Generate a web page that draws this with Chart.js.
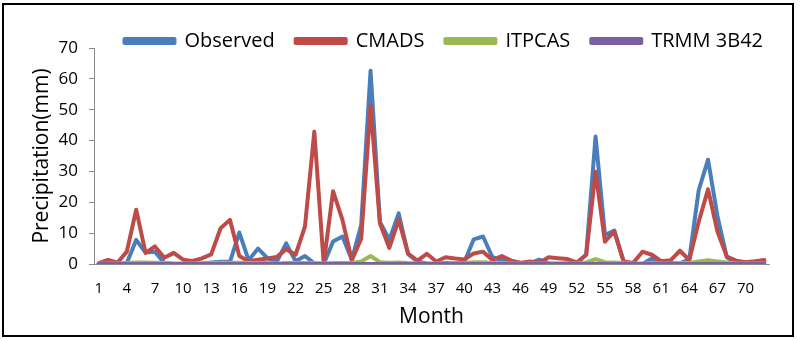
<!DOCTYPE html>
<html>
<head>
<meta charset="utf-8">
<script src="https://cdn.jsdelivr.net/npm/chart.js@4"></script>
<style>
  html, body { margin: 0; padding: 0; background: #fff; }
  #wrap { position: relative; width: 800px; height: 341px; }
  #frame {
    position: absolute; left: 2px; top: 3px; width: 792px; height: 334px;
    border: 2px solid #000; box-sizing: border-box; pointer-events: none;
  }
  canvas { position: absolute; left: 0; top: 0; }
</style>
</head>
<body>
<div id="wrap">
  <canvas id="rain-chart" width="800" height="341"></canvas>
  <div id="frame"></div>
</div>
<script>
const months = [1, 2, 3, 4, 5, 6, 7, 8, 9, 10, 11, 12, 13, 14, 15, 16, 17, 18,
    19, 20, 21, 22, 23, 24, 25, 26, 27, 28, 29, 30, 31, 32, 33, 34, 35, 36,
    37, 38, 39, 40, 41, 42, 43, 44, 45, 46, 47, 48, 49, 50, 51, 52, 53, 54,
    55, 56, 57, 58, 59, 60, 61, 62, 63, 64, 65, 66, 67, 68, 69, 70, 71, 72];
const shownMonths = [1, 4, 7, 10, 13, 16, 19, 22, 25, 28, 31, 34, 37, 40, 43, 46,
    49, 52, 55, 58, 61, 64, 67, 70];
const yTicks = [0, 10, 20, 30, 40, 50, 60, 70];

const observed = [0, 0, 0, 0.3, 7.8, 3.7, 4.0, 0.3, 0, 0, 0, 0.2,
    0.5, 0.7, 0.7, 10.2, 1.2, 5.0, 1.9, 0.8, 6.7, 0.9, 2.6, 0.2,
    0, 7.3, 8.9, 1.4, 12.6, 62.6, 13.6, 7.8, 16.4, 3.2, 0.8, 0.2,
    0, 0.3, 0.2, 0.6, 8.0, 8.9, 2.2, 1.3, 0.4, 0.2, 0.2, 1.4,
    0.2, 0.1, 0.2, 0.3, 3.0, 41.3, 9.4, 10.8, 0.7, 0,
    0, 1.8, 0.5, 0.3, 0.2, 1.5, 23.9, 33.8, 15.5, 2.2, 0.3, 0.2, 0.3, 0.8];
const cmads = [0.3, 1.3, 0.4, 4.0, 17.6, 3.6, 5.7, 2.0, 3.6, 1.4, 1.0, 1.8,
    3.1, 11.6, 14.3, 2.6, 0.9, 1.4, 1.8, 2.3, 4.8, 3.0, 12.1, 42.9,
    0.2, 23.6, 14.3, 1.2, 8.2, 51.3, 13.2, 5.2, 14.3, 3.4, 1.1, 3.3,
    0.8, 2.2, 1.8, 1.5, 3.4, 4.0, 1.3, 2.6, 1.1, 0.4, 0.8, 0.4,
    2.2, 1.9, 1.6, 0.5, 3.0, 29.9, 7.2, 10.6, 0.8, 0.3,
    4.0, 3.0, 0.9, 1.2, 4.3, 1.3, 13.7, 24.2, 10.5, 2.4, 1.1, 0.6, 0.9, 1.3];
const itpcas = [0.2, 0.2, 0.2, 0.3, 0.5, 0.5, 0.4, 0.3, 0.2, 0.2, 0.2, 0.2,
    0.3, 0.4, 0.4, 0.4, 0.3, 0.3, 0.3, 0.2, 0.3, 0.3, 0.3, 0.3,
    0.2, 0.3, 0.3, 0.3, 0.8, 2.6, 0.6, 0.4, 0.5, 0.3, 0.2, 0.2,
    0.2, 0.2, 0.2, 0.3, 0.6, 0.6, 0.3, 0.3, 0.2, 0.2, 0.2, 0.2,
    0.2, 0.2, 0.2, 0.2, 0.5, 1.6, 0.6, 0.5, 0.3, 0.2,
    0.2, 0.3, 0.2, 0.2, 0.3, 0.3, 0.8, 1.2, 0.8, 0.5, 0.2, 0.2, 0.2, 0.2];
const trmm = [0, 0, 0, 0, 0, 0, 0, 0, 0, 0, 0, 0,
    0, 0, 0, 0, 0, 0, 0, 0, 0, 0, 0, 0,
    0, 0, 0, 0, 0, 0, 0, 0, 0, 0, 0, 0,
    0, 0, 0, 0, 0, 0, 0, 0, 0, 0, 0, 0,
    0, 0, 0, 0, 0, 0, 0, 0, 0, 0,
    0, 0, 0, 0, 0, 0, 0, 0, 0, 0, 0, 0, 0, 0];

const fontFamily = "'Open Sans', sans-serif";

// later datasets sit on top, so give them the lower draw order
const line = (label, data, color, order) => ({
    label: label,
    data: data,
    borderColor: color,
    backgroundColor: color,
    borderWidth: 4,
    borderJoinStyle: 'round',
    borderCapStyle: 'round',
    pointRadius: 0,
    tension: 0,
    fill: false,
    order: order
});

// nudge the legend row a bit to the right of the plot's right edge
const legendShift = {
    id: 'legendShift',
    afterLayout(chart) {
        chart.legend.left += 15;
        chart.legend.right += 15;
    }
};

new Chart(document.getElementById("rain-chart"), {
    type: 'line',
    data: {
        labels: months,
        datasets: [
            line('Observed', observed, '#4a7ebb', 4),
            line('CMADS', cmads, '#be4b48', 3),
            line('ITPCAS', itpcas, '#98b954', 2),
            line('TRMM 3B42', trmm, '#7d60a0', 1)
        ]
    },
    plugins: [legendShift],
    options: {
        responsive: false,
        animation: false,
        layout: { padding: { left: 29, right: 31, top: 10, bottom: 8 } },
        plugins: {
            tooltip: { enabled: false },
            legend: {
                position: 'top',
                align: 'end',
                maxHeight: 38,
                labels: {
                    boxWidth: 50,
                    boxHeight: 4,
                    padding: 21,
                    color: '#000',
                    font: { family: fontFamily, size: 20 },
                    sort: (a, b) => a.datasetIndex - b.datasetIndex
                }
            }
        },
        scales: {
            x: {
                offset: true,
                grid: { display: true, drawOnChartArea: false, drawTicks: false },
                border: { display: true, color: '#8c8c8c', width: 1 },
                ticks: {
                    autoSkip: false,
                    maxRotation: 0,
                    padding: 16,
                    color: '#000',
                    font: { family: fontFamily, size: 15 },
                    callback: function (value, index) {
                        const m = months[index];
                        return shownMonths.includes(m) ? String(m) : '';
                    }
                },
                title: {
                    display: true,
                    text: 'Month',
                    color: '#000',
                    font: { family: fontFamily, size: 21 },
                    padding: { top: 0, bottom: 3 }
                },
                afterFit: (scale) => { scale.height = 69; }
            },
            y: {
                min: 0,
                max: 70,
                afterBuildTicks: (scale) => {
                    scale.ticks = yTicks.map(v => ({ value: v }));
                },
                grid: {
                    drawOnChartArea: false,
                    drawTicks: true,
                    tickLength: 5,
                    color: '#8c8c8c'
                },
                border: { display: true, color: '#8c8c8c', width: 1 },
                ticks: {
                    padding: 11,
                    color: '#000',
                    font: { family: fontFamily, size: 17 }
                },
                title: {
                    display: true,
                    text: 'Precipitation(mm)',
                    color: '#000',
                    font: { family: fontFamily, size: 21 },
                    padding: { top: 0, bottom: 0 }
                },
                afterFit: (scale) => { scale.width = 65; }
            }
        }
    }
});
</script>
</body>
</html>
